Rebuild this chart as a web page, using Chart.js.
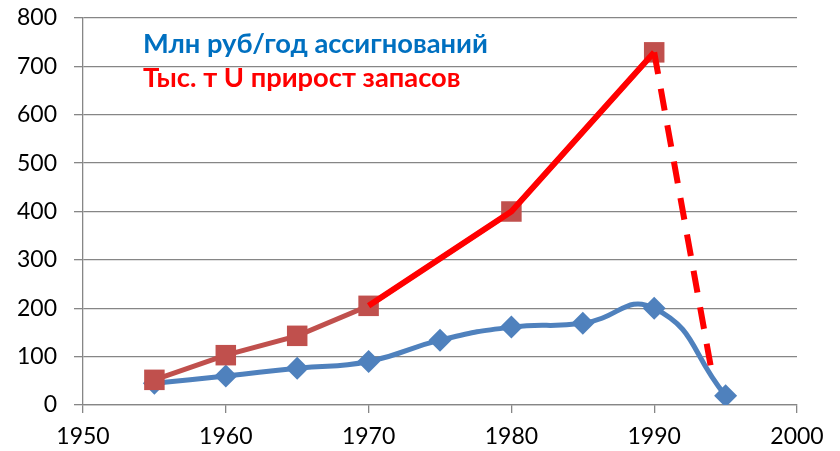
<!DOCTYPE html>
<html>
<head>
<meta charset="utf-8">
<script src="https://cdn.jsdelivr.net/npm/chart.js@4"></script>
<style>
html,body{margin:0;padding:0;background:#fff;}
#wrap{position:relative;width:840px;height:451px;}
</style>
</head>
<body>
<div id="wrap"><canvas id="c" width="840" height="451"></canvas></div>
<script>
// ---- data ----
const fundingYears = [1955, 1960, 1965, 1970, 1975, 1980, 1985, 1990, 1995];
const fundingValues = [45, 60, 76, 90, 134, 161, 169, 200, 19];
const reserveYears = [1955, 1960, 1965, 1970, 1980, 1990];
const reserveValues = [52, 103, 143, 205, 400, 729];
const highlightYears = [1970, 1980, 1990];
const highlightValues = [205, 400, 729];
const dropYears = [1990, 1994.1];
const dropValues = [729, 57];
const xTicks = [1950, 1960, 1970, 1980, 1990, 2000];
const yTicks = [0, 100, 200, 300, 400, 500, 600, 700, 800];
const labelFunding = 'Млн руб/год ассигнований';
const labelReserves = 'Тыс. т U прирост запасов';

const pts = (xs, ys) => xs.map((x, i) => ({x: x, y: ys[i]}));

Chart.defaults.font.family = 'Lato, "Liberation Sans", sans-serif';
Chart.defaults.color = '#000';

const textPlugin = {
  id: 'textBoxes',
  afterDraw(chart) {
    const ctx = chart.ctx;
    ctx.save();
    ctx.textBaseline = 'alphabetic';
    ctx.textAlign = 'left';
    const fam = 'Lato, "Liberation Sans", sans-serif';
    ctx.font = 'bold 26px ' + fam;
    const w = ctx.measureText(labelFunding).width;
    const size = 26 * 345 / w;
    ctx.font = 'bold ' + size.toFixed(2) + 'px ' + fam;
    ctx.fillStyle = '#0070C0';
    ctx.fillText(labelFunding, 143, 53);
    ctx.fillStyle = '#FF0000';
    ctx.fillText(labelReserves, 143, 87);
    ctx.restore();
  }
};

new Chart(document.getElementById('c'), {
  type: 'line',
  data: {
    datasets: [
      {
        label: 'drop',
        data: pts(dropYears, dropValues),
        borderColor: '#FF0000',
        borderWidth: 6,
        borderDash: [22, 15],
        pointRadius: 0,
        tension: 0,
        order: 0
      },
      {
        label: 'highlight',
        data: pts(highlightYears, highlightValues),
        borderColor: '#FF0000',
        borderWidth: 6,
        pointRadius: 0,
        tension: 0,
        order: 1
      },
      {
        label: labelReserves,
        data: pts(reserveYears, reserveValues),
        borderColor: '#C0504D',
        backgroundColor: '#C0504D',
        borderWidth: 5,
        pointStyle: 'rect',
        pointRadius: 14.5,
        pointBorderWidth: 0,
        pointBackgroundColor: '#C0504D',
        tension: 0,
        order: 2
      },
      {
        label: labelFunding,
        data: pts(fundingYears, fundingValues),
        borderColor: '#4F81BD',
        backgroundColor: '#4F81BD',
        borderWidth: 5,
        pointStyle: 'rectRot',
        pointRadius: 11.5,
        pointBorderWidth: 0,
        pointBackgroundColor: '#4F81BD',
        tension: 0.5,
        capBezierPoints: false,
        order: 3
      }
    ]
  },
  options: {
    responsive: false,
    animation: false,
    events: [],
    layout: {padding: {top: 18, right: 43, left: 0, bottom: 0}},
    plugins: {legend: {display: false}, tooltip: {enabled: false}},
    scales: {
      x: {
        type: 'linear',
        min: 1950, max: 2000,
        afterBuildTicks: s => { s.ticks = xTicks.map(v => ({value: v})); },
        afterFit: s => { s.height = 46; },
        ticks: {
          font: {size: 23},
          padding: 10,
          maxRotation: 0,
          callback: v => String(v)
        },
        grid: {drawOnChartArea: false, drawTicks: true, tickLength: 8, color: '#868686', lineWidth: 1.3},
        border: {color: '#868686', width: 1.3}
      },
      y: {
        min: 0, max: 800,
        afterBuildTicks: s => { s.ticks = yTicks.map(v => ({value: v})); },
        afterFit: s => { s.width = 83; s.paddingTop = 0; s.paddingBottom = 0; },
        ticks: {font: {size: 23}, padding: 17, callback: v => String(v)},
        grid: {color: '#868686', lineWidth: 1.3, tickLength: 9},
        border: {color: '#868686', width: 1.3}
      }
    }
  },
  plugins: [textPlugin]
});
</script>
</body>
</html>
